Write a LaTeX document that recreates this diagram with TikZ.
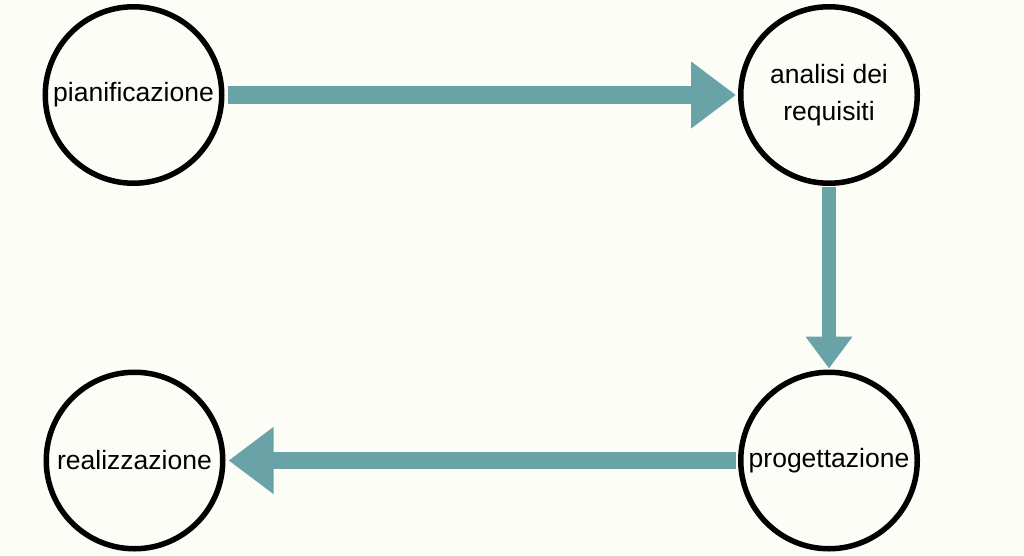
\documentclass[tikz,border=0pt]{standalone}
\usepackage{fontspec}
\setmainfont{Liberation Sans}
\usetikzlibrary{arrows.meta}
\definecolor{pagebg}{HTML}{FDFDF8}
\definecolor{flow}{HTML}{6AA3A7}
\begin{document}
\begin{tikzpicture}[x=1pt,y=-1pt,
  phase/.style={circle,draw=black,line width=5.5pt,fill=pagebg,minimum size=176.5pt,inner sep=0pt,align=center,
    font=\fontsize{26.5}{37}\selectfont},
  bigflow/.style={flow,line width=18pt,-{Triangle[length=45pt,width=64pt]}},
  smallflow/.style={flow,line width=14pt,-{Triangle[length=32pt,width=45pt]}}]
\fill[pagebg] (0,0) rectangle (1024,556);
\useasboundingbox (0,0) rectangle (1024,556);
\node[phase] (pian) at (133.5,95) {pianificazione};
\node[phase] (anal) at (829,95) {analisi dei\\requisiti};
\node[phase] (prog) at (829,460.5) {progettazione};
\node[phase] (real) at (134.5,460.5) {realizzazione};
\draw[bigflow,shorten <=3pt,shorten >=2pt] (pian.east) -- (anal.west);
\draw[smallflow,shorten <=1pt,shorten >=1pt] (anal.south) -- (prog.north);
\draw[bigflow,line width=17pt,shorten <=2pt,shorten >=3pt] (prog.west) -- (real.east);
\end{tikzpicture}
\end{document}
